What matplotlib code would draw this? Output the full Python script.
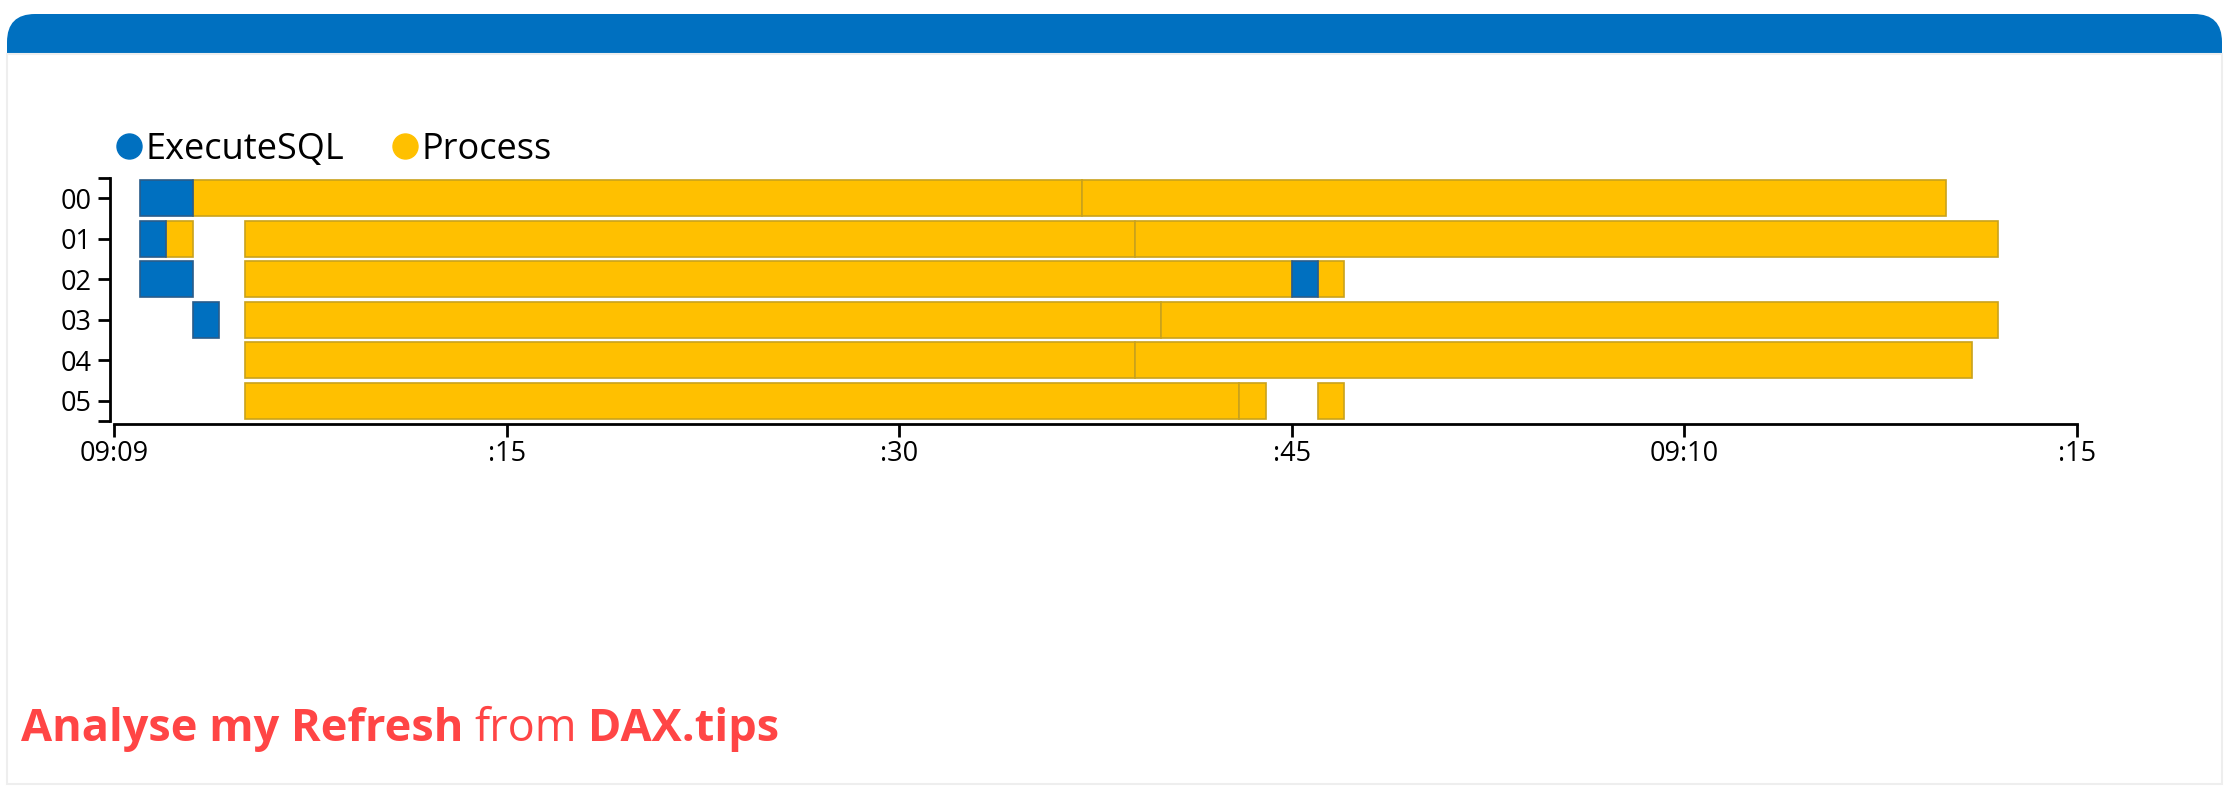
import matplotlib
matplotlib.use("Agg")
import matplotlib.pyplot as plt
from matplotlib.patches import FancyBboxPatch, Rectangle
from matplotlib.lines import Line2D
from matplotlib.transforms import IdentityTransform

# 数据：每段的行号、开始秒、结束秒（从 09:09:00 起算）
rows = ["00", "01", "02", "03", "04", "05"]
sql_row = [0, 1, 2, 3, 2]
sql_start = [1, 1, 1, 3, 45]
sql_end = [3, 2, 3, 4, 46]
proc_row = [0, 0, 1, 1, 1, 2, 2, 3, 3, 4, 4, 5, 5, 5]
proc_start = [3, 37, 2, 5, 39, 5, 46, 5, 40, 5, 39, 5, 43, 46]
proc_end = [37, 70, 3, 39, 72, 45, 47, 40, 72, 39, 71, 43, 44, 47]
tick_pos = [0, 15, 30, 45, 60, 75]
tick_labels = ["09:09", ":15", ":30", ":45", "09:10", ":15"]

blue = "#0070C0"
yellow = "#FFC000"
red = "#FF4545"
W, H = 2232, 799

plt.rcParams["font.family"] = ["Open Sans", "DejaVu Sans"]
fig = plt.figure(figsize=(W / 100, H / 100), dpi=100)

# 卡片背景：蓝色圆角标题栏 + 浅灰边框
px = IdentityTransform()
fig.patches.append(FancyBboxPatch((7, 715), 2215, 70, boxstyle="round,pad=0,rounding_size=28",
                                  fc=blue, ec="none", transform=px, figure=fig))
fig.patches.append(Rectangle((5, 690), 2222, 55, fc="white", ec="none", transform=px, figure=fig))
fig.patches.append(Rectangle((7, 15), 2215, 730, fc="none", ec="#EEEEEE", lw=1.5,
                             transform=px, figure=fig))

ax = fig.add_axes([114 / W, 378 / H, (2077 - 114) / W, 243 / H])

def draw(row, start, end, color, edge):
    ax.barh(row, [e - s for s, e in zip(start, end)], left=start, height=0.9,
            color=color, edgecolor=edge, linewidth=1.2)

draw(proc_row, proc_start, proc_end, yellow, "#C9A21C")
draw(sql_row, sql_start, sql_end, blue, "#2A5C8A")

ax.set_xlim(0, 75)
ax.set_ylim(5.5, -0.5)
ax.set_yticks(range(len(rows)))
ax.set_yticklabels(rows)
ax.set_yticks([-0.5, 5.5], minor=True)
ax.set_xticks(tick_pos)
ax.set_xticklabels(tick_labels)
ax.tick_params(axis="both", which="both", length=9, width=2, labelsize=19.5, color="black")
ax.tick_params(axis="y", pad=4)
ax.tick_params(axis="x", pad=3)
for s in ["top", "right"]:
    ax.spines[s].set_visible(False)
ax.spines["left"].set_linewidth(2)
ax.spines["bottom"].set_linewidth(2)
ax.spines["left"].set_position(("outward", 3))
ax.spines["bottom"].set_position(("outward", 2))

handles = [Line2D([], [], ls="", marker="o", ms=18, color=blue, label="ExecuteSQL"),
           Line2D([], [], ls="", marker="o", ms=18, color=yellow, label="Process")]
fig.legend(handles=handles, loc="center left", bbox_to_anchor=(119 / W, (H - 150) / H),
           ncol=2, frameon=False, fontsize=26, handlelength=0.55, handletextpad=0.18,
           columnspacing=1.4, borderpad=0, borderaxespad=0)

# 底部红色文字
y_txt = (H - 741) / H
t = fig.text(21 / W, y_txt, "Analyse my Refresh", color=red, fontsize=32.5,
             fontweight="bold", va="baseline")
fig.canvas.draw()
bb = t.get_window_extent()
t2 = fig.text(bb.x1 / W + 0.005, y_txt, "from", color=red, fontsize=32.5, va="baseline")
bb2 = t2.get_window_extent()
fig.text(bb2.x1 / W + 0.005, y_txt, "DAX.tips", color=red, fontsize=32.5,
         fontweight="bold", va="baseline")

fig.savefig("out.png", dpi=100, facecolor="white")
